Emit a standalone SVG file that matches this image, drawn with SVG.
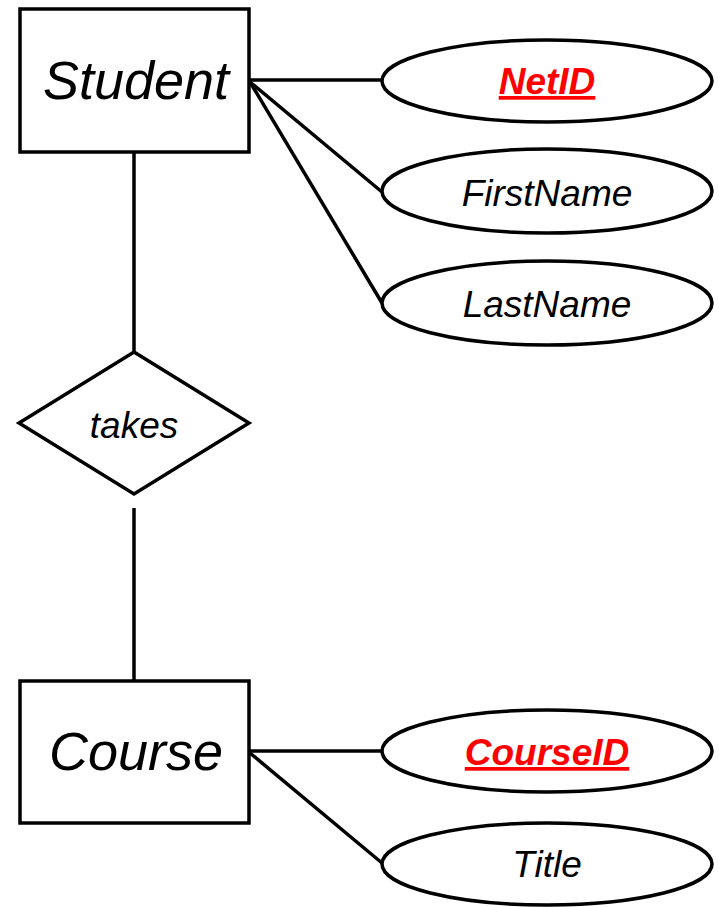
<svg xmlns="http://www.w3.org/2000/svg" width="719" height="907" viewBox="0 0 719 907">
<style>
.shape{fill:#fff;stroke:#000;stroke-width:3.5;stroke-linejoin:miter}
.conn line{stroke:#000;stroke-width:3.5}
text{font-family:"Liberation Sans",Arial,sans-serif;font-style:italic;text-anchor:middle;fill:#000}
.ent{font-size:54px}
.attr{font-size:37px}
.key{font-size:37px;font-weight:bold;fill:#ff0000;text-decoration:underline}
</style>
<rect width="719" height="907" fill="#fff"/>
<g id="connectors" class="conn">
<line x1="134" y1="152" x2="134" y2="352"/>
<line x1="134" y1="508" x2="134" y2="681"/>
<line x1="250" y1="80" x2="382" y2="80"/>
<line x1="250" y1="82" x2="382" y2="192"/>
<line x1="250" y1="82" x2="382" y2="303"/>
<line x1="250" y1="751" x2="382" y2="751"/>
<line x1="250" y1="753" x2="382" y2="863"/>
</g>
<g id="student">
<rect class="shape" x="20" y="9" width="229" height="143"/>
<text class="ent" x="136" y="99">Student</text>
</g>
<g id="netid">
<ellipse class="shape" cx="547" cy="81" rx="165" ry="41"/>
<text class="key" x="547" y="94">NetID</text>
</g>
<g id="firstname">
<ellipse class="shape" cx="547" cy="191" rx="165" ry="42"/>
<text class="attr" x="547" y="206">FirstName</text>
</g>
<g id="lastname">
<ellipse class="shape" cx="547" cy="303" rx="165" ry="42"/>
<text class="attr" x="547" y="317">LastName</text>
</g>
<g id="takes">
<polygon class="shape" points="134,352 249,423 134,494 19,423"/>
<text class="attr" x="134" y="438">takes</text>
</g>
<g id="course">
<rect class="shape" x="20" y="681" width="229" height="142"/>
<text class="ent" x="136" y="770">Course</text>
</g>
<g id="courseid">
<ellipse class="shape" cx="547" cy="751" rx="165" ry="41"/>
<text class="key" x="547" y="765">CourseID</text>
</g>
<g id="title">
<ellipse class="shape" cx="547" cy="864" rx="165" ry="41"/>
<text class="attr" x="547" y="877">Title</text>
</g>
</svg>
